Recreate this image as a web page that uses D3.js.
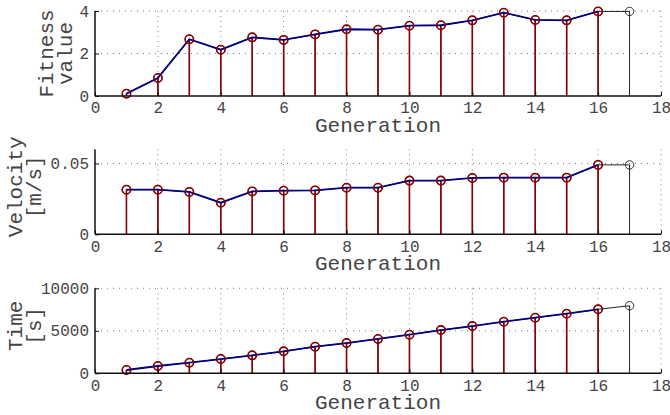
<!DOCTYPE html>
<html>
<head>
<meta charset="utf-8">
<script src="https://cdn.jsdelivr.net/npm/d3@7"></script>
<style>
  body { margin: 0; background: #fff; }
  text { font-family: "Liberation Mono", "Courier New", monospace; fill: #444; }
</style>
</head>
<body>
<svg id="chart" width="670" height="415"></svg>
<script>
// data
const generations = [1, 2, 3, 4, 5, 6, 7, 8, 9, 10, 11, 12, 13, 14, 15, 16, 17];
const fitness = [0.11, 0.85, 2.67, 2.18, 2.76, 2.64, 2.90, 3.14, 3.12, 3.31, 3.33, 3.56, 3.92, 3.58, 3.56, 3.98, 3.98];
const velocity = [0.0315, 0.0315, 0.0299, 0.0223, 0.0303, 0.0308, 0.0310, 0.0329, 0.0329, 0.0379, 0.0379, 0.0398, 0.0400, 0.0400, 0.0400, 0.0490, 0.0490];
const time = [388, 860, 1250, 1680, 2110, 2590, 3130, 3560, 4040, 4540, 5090, 5560, 6070, 6540, 7010, 7530, 7950];

const xTicks = [0, 2, 4, 6, 8, 10, 12, 14, 16, 18];
const fitnessTicks = [0, 2, 4];
const velocityTicks = [0, 0.05];
const timeTicks = [0, 5000, 10000];

const xLabel = "Generation";

// number of generations that the red/blue series covers
const bestCount = 16;

const panels = [
  {values: fitness, domain: [0, 4], ticks: fitnessTicks, fmt: d => d, label: ["Fitness", "value"], top: 11, labelX: 72, labelDy: 0},
  {values: velocity, domain: [0, 0.06], ticks: velocityTicks, fmt: d => d === 0 ? "0" : d.toFixed(2), label: ["Velocity", "[m/s]"], top: 149.3, labelX: 41, labelDy: -5},
  {values: time, domain: [0, 10000], ticks: timeTicks, fmt: d => d, label: ["Time", "[s]"], top: 288.3, labelX: 41, labelDy: -5}
];

const left = 95, right = 661, h = 85;
const svg = d3.select("#chart");

const x = d3.scaleLinear().domain([0, 18]).range([left, right]);

panels.forEach(p => {
  const y = d3.scaleLinear().domain(p.domain).range([p.top + h, p.top]);
  const g = svg.append("g");
  const pts = generations.map((gen, i) => ({gen: gen, v: p.values[i]}));

  // dotted grid
  g.selectAll(".gx").data(xTicks.filter(d => d > 0)).enter().append("line")
    .attr("x1", d => x(d)).attr("x2", d => x(d))
    .attr("y1", p.top).attr("y2", p.top + h)
    .style("stroke", "#888").style("stroke-width", 1).style("stroke-dasharray", "1,4");
  g.selectAll(".gy").data(p.ticks.filter(d => d > 0)).enter().append("line")
    .attr("x1", left).attr("x2", right)
    .attr("y1", d => y(d)).attr("y2", d => y(d))
    .style("stroke", "#777").style("stroke-width", 1).style("stroke-dasharray", "1,5");

  // black stems + line for all generations
  g.selectAll(".sk").data(pts).enter().append("line")
    .attr("x1", d => x(d.gen)).attr("x2", d => x(d.gen))
    .attr("y1", y(0)).attr("y2", d => y(d.v))
    .style("stroke", "#222").style("stroke-width", 1);
  g.append("path").datum(pts)
    .attr("d", d3.line().x(d => x(d.gen)).y(d => y(d.v)))
    .style("fill", "none").style("stroke", "#222").style("stroke-width", 1);
  g.selectAll(".ck").data(pts).enter().append("circle")
    .attr("cx", d => x(d.gen)).attr("cy", d => y(d.v)).attr("r", 4.2)
    .style("fill", "none").style("stroke", "#333").style("stroke-width", 1);

  // red stems + blue line for best individuals
  const best = pts.slice(0, bestCount);
  g.selectAll(".sr").data(best).enter().append("line")
    .attr("x1", d => x(d.gen)).attr("x2", d => x(d.gen))
    .attr("y1", y(0)).attr("y2", d => y(d.v))
    .style("stroke", "#8b0000").style("stroke-width", 1.6);
  g.append("path").datum(best)
    .attr("d", d3.line().x(d => x(d.gen)).y(d => y(d.v)))
    .style("fill", "none").style("stroke", "#000080").style("stroke-width", 1.8);
  g.selectAll(".cr").data(best).enter().append("circle")
    .attr("cx", d => x(d.gen)).attr("cy", d => y(d.v)).attr("r", 4.2)
    .style("fill", "none").style("stroke", "#8b0000").style("stroke-width", 1.6);

  // axes, ticks inward
  const xAxis = d3.axisBottom(x).tickValues(xTicks).tickSize(-4).tickPadding(6).tickFormat(d => d);
  const ax = g.append("g").attr("transform", "translate(0," + y(0) + ")").call(xAxis);
  const yAxis = d3.axisLeft(y).tickValues(p.ticks).tickSize(-4).tickPadding(6).tickFormat(p.fmt);
  const ay = g.append("g").attr("transform", "translate(" + left + ",0)").call(yAxis);
  [ax, ay].forEach(a => {
    a.select(".domain").style("stroke", "#111").style("stroke-width", 1.5);
    a.selectAll(".tick line").style("stroke", "#111");
    a.selectAll("text").style("font-family", "'Liberation Mono', monospace")
      .style("font-size", "16px").style("fill", "#444");
  });
  ax.select(".domain").attr("d", "M" + left + ",0H" + right);
  ay.select(".domain").attr("d", "M0," + y(0) + "V" + p.top);

  // axis labels
  g.append("text")
    .attr("x", (left + right) / 2).attr("y", y(0) + 36)
    .attr("text-anchor", "middle").style("font-size", "21px")
    .text(xLabel);
  const cy = p.top + h / 2 + p.labelDy;
  p.label.forEach((t, i) => {
    const bx = p.labelX - (p.label.length - 1 - i) * 19;
    g.append("text")
      .attr("transform", "translate(" + bx + "," + cy + ") rotate(-90)")
      .attr("text-anchor", "middle").style("font-size", "21px")
      .text(t);
  });
});
</script>
</body>
</html>
